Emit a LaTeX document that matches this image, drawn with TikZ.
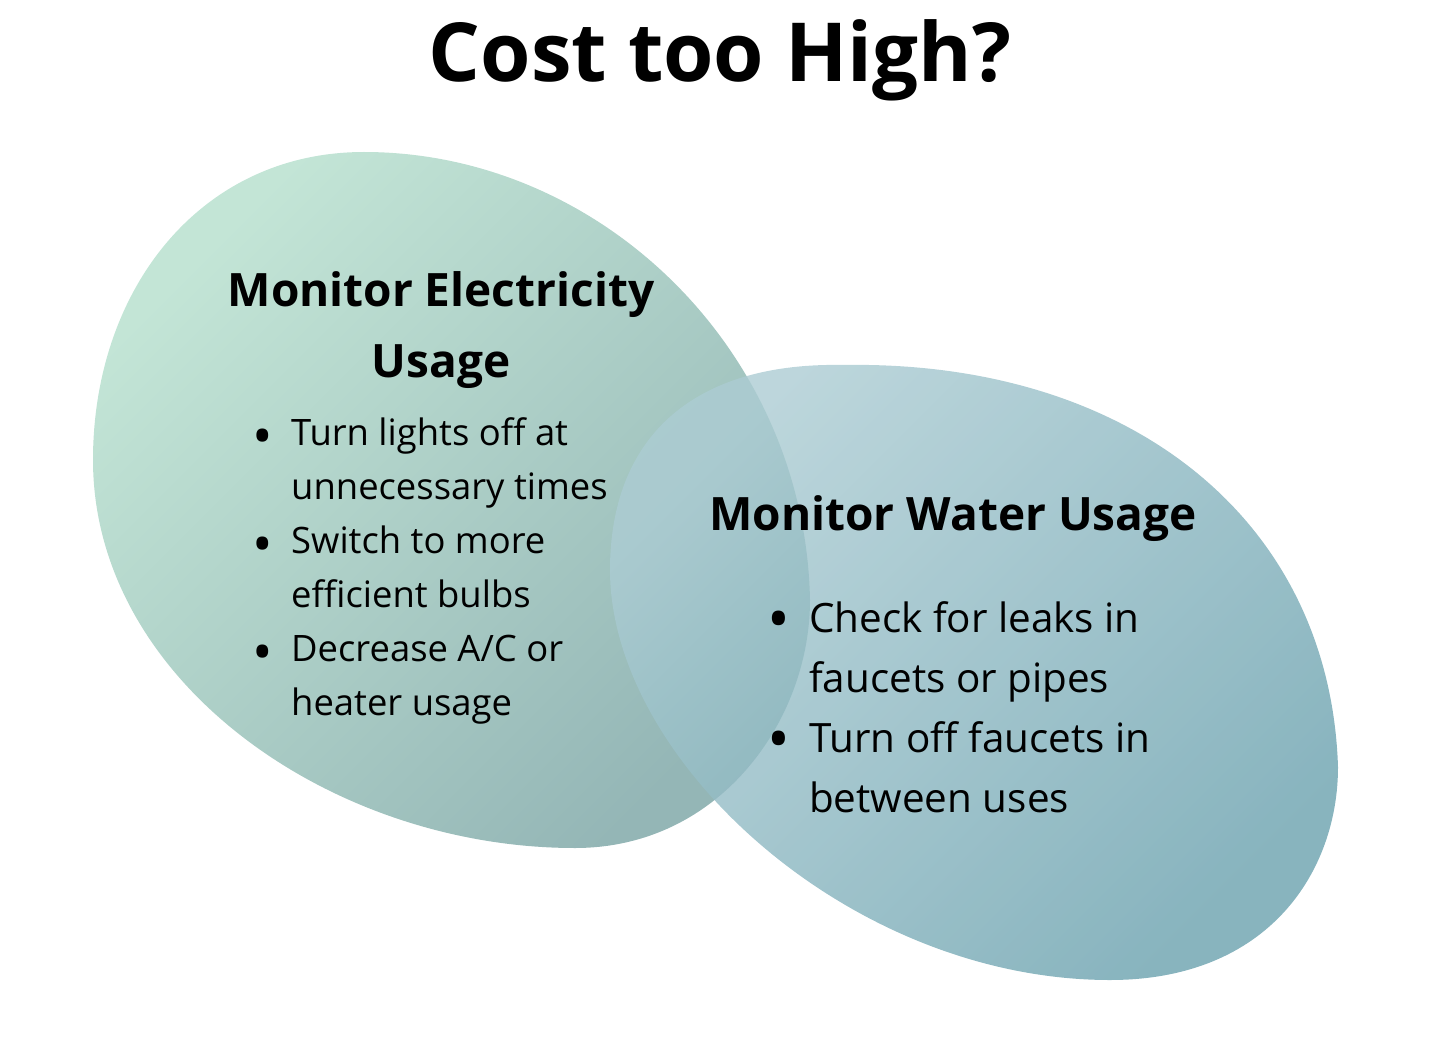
\documentclass[tikz,border=0pt]{standalone}
\usepackage{fontspec}
\setmainfont{Open Sans}
\definecolor{elecTop}{HTML}{C3E5D6}
\definecolor{elecBot}{HTML}{94B6B6}
\definecolor{waterTop}{HTML}{ACCCD3}
\definecolor{waterBot}{HTML}{6AA1AE}
\newcommand{\itm}[2]{\makebox[#1][l]{\raisebox{#2}{\scalebox{1.5}{\textbullet}}}}
\tikzset{
  blob/.style={draw=none},
  heading/.style={font=\bfseries\fontsize{46}{71}\selectfont, anchor=base, inner sep=0pt},
  tips/.style={anchor=base west, inner sep=0pt}
}
\begin{document}
\begin{tikzpicture}[x=1pt,y=-1pt]
    \useasboundingbox (0,0) rectangle (1440,1059);

    % the two blobs
    \shade[blob, top color=elecTop, bottom color=elecBot, shading angle=45]
      (364,152) .. controls (200,152) and (93,290) .. (93,460)
                .. controls (93,680) and (330,848) .. (575,848)
                .. controls (720,848) and (810,720) .. (810,600)
                .. controls (805,350) and (600,152) .. (364,152) -- cycle;
    \shade[blob, opacity=0.8, top color=waterTop, bottom color=waterBot, shading angle=45]
      (843,365) .. controls (690,362) and (610,440) .. (610,570)
                .. controls (610,760) and (850,980) .. (1110,980)
                .. controls (1270,980) and (1338,870) .. (1338,767)
                .. controls (1330,520) and (1130,360) .. (843,365) -- cycle;

    \node[font=\bfseries\fontsize{81.5}{82}\selectfont, anchor=base, inner sep=0pt] (title) at (720,82) {Cost too High?};

    \node[heading] (elec) at (441,306) {\begin{tabular}[t]{@{}c@{}}Monitor Electricity\\Usage\end{tabular}};
    \node[tips, font=\fontsize{36.4}{54}\selectfont] (elecTips) at (252,445) {\begin{tabular}[t]{@{}l@{}l@{}}
      \itm{39pt}{-0.28em} & Turn lights off at\\
                 & unnecessary times\\
      \itm{39pt}{-0.28em} & Switch to more\\
                 & efficient bulbs\\
      \itm{39pt}{-0.28em} & Decrease A/C or\\
                 & heater usage
    \end{tabular}};

    \node[heading] (water) at (953,530) {Monitor Water Usage};
    \node[tips, font=\fontsize{40.4}{60}\selectfont] (waterTips) at (767,632) {\begin{tabular}[t]{@{}l@{}l@{}}
      \itm{42pt}{-0.21em} & Check for leaks in\\
                 & faucets or pipes\\
      \itm{42pt}{-0.21em} & Turn off faucets in\\
                 & between uses
    \end{tabular}};
\end{tikzpicture}
\end{document}
